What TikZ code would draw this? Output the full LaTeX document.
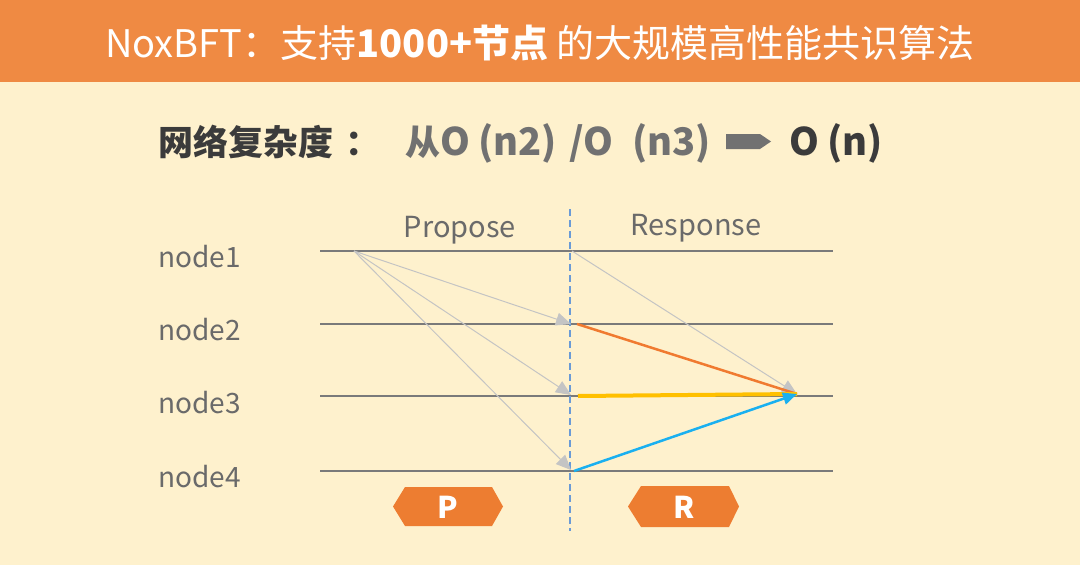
\documentclass[tikz,border=0pt]{standalone}
\usepackage{fontspec}
\setmainfont{Noto Sans CJK SC}
\usetikzlibrary{arrows.meta}
\definecolor{bgc}{HTML}{FEF1CD}
\definecolor{hdr}{HTML}{EF8A43}
\definecolor{hexc}{HTML}{ED7D31}
\definecolor{dark}{HTML}{3B3B3B}
\definecolor{midg}{HTML}{717171}
\definecolor{lbl}{HTML}{6A6A6A}
\definecolor{lineg}{HTML}{7A7A7A}
\definecolor{arrg}{HTML}{C4C4C4}
\definecolor{dashb}{HTML}{6A9BD6}
\definecolor{oline}{HTML}{F07A30}
\definecolor{yline}{HTML}{FFC000}
\definecolor{bline}{HTML}{1AB0F0}
\tikzset{
  lbltext/.style={font=\fontsize{28}{32}\selectfont, text=lbl, anchor=base, inner sep=0pt},
  subcjk/.style={font=\bfseries\fontsize{35}{40}\selectfont, anchor=base west, inner sep=0pt},
  sublat/.style={font=\bfseries\fontsize{38}{42}\selectfont, anchor=base west, inner sep=0pt},
  tline/.style={draw=lineg, line width=2pt},
  garrow/.style={draw=arrg, line width=1pt, -{Triangle[length=15pt,width=13pt]}},
  hexbox/.style={fill=hexc, draw=none},
  hextext/.style={font=\bfseries\fontsize{30}{34}\selectfont, text=white, inner sep=0pt}
}
\begin{document}
\begin{tikzpicture}[x=1pt,y=-1pt]
\useasboundingbox (0,0) rectangle (1080,565);
\fill[bgc] (0,0) rectangle (1080,565);
\fill[hdr] (0,0) rectangle (1080,82);
\node[anchor=base, inner sep=0pt, text=white, font=\fontsize{38}{44}\selectfont] (title) at (540,57)
  {NoxBFT：支持\textbf{1000+节点} 的大规模高性能共识算法};
% subtitle
\node[subcjk, text=dark] (s1) at (158,155) {网络复杂度};
\node[subcjk, text=dark] (s2) at (345,155) {：};
\node[subcjk, text=midg] (s3) at (405,155) {从\fontsize{38}{42}\selectfont O};
\node[sublat, text=midg] (s5) at (478,155) {(n2)};
\node[sublat, text=midg] (s6) at (569,155) {/O};
\node[sublat, text=midg] (s7) at (632,155) {(n3)};
\fill[midg] (726,134) -- (760,134) -- (771,141.5) -- (760,149) -- (726,149) -- cycle;
\node[sublat, text=dark] (s8) at (789,155) {O};
\node[sublat, text=dark] (s9) at (827,155) {(n)};
% headers
\node[lbltext, font=\fontsize{29}{32}\selectfont] (prop) at (460,237) {Propose};
\node[lbltext, font=\fontsize{29}{32}\selectfont] (resp) at (696,235) {Response};
% node labels
\node[lbltext, anchor=base west] (n1) at (158,267) {node1};
\node[lbltext, anchor=base west] (n2) at (158,340) {node2};
\node[lbltext, anchor=base west] (n3) at (158,413) {node3};
\node[lbltext, anchor=base west] (n4) at (158,487) {node4};
% lines
\coordinate (l1a) at (320,251); \coordinate (l1b) at (833,251);
\coordinate (l2a) at (320,324); \coordinate (l2b) at (833,324);
\coordinate (l3a) at (320,396); \coordinate (l3b) at (833,396);
\coordinate (l4a) at (320,471); \coordinate (l4b) at (833,471);
\draw[tline] (l1a) -- (l1b);
\draw[tline] (l2a) -- (l2b);
\draw[tline] (l3a) -- (l3b);
\draw[tline] (l4a) -- (l4b);
% dashed divider
\coordinate (dtop) at (570,209);
\coordinate (dbot) at (570,531);
\draw[dashb, line width=1.3pt, dash pattern=on 7pt off 4pt] (dtop) -- (dbot);
% propose arrows
\coordinate (src) at (354,251);
\coordinate (t2) at (571,324);
\coordinate (t3) at (571,395);
\coordinate (t4) at (571,470);
\draw[garrow] (src) -- (t2);
\draw[garrow] (src) -- (t3);
\draw[garrow] (src) -- (t4);
% response arrows
\coordinate (r1) at (572,251);
\coordinate (r2) at (577,324);
\coordinate (r3) at (578,396);
\coordinate (r4) at (574,471);
\coordinate (dst) at (797,394);
\draw[garrow] (r1) -- (dst);
\draw[oline, line width=2.5pt] (r2) -- (dst);
\draw[yline, line width=4pt] (r3) -- (dst);
\draw[bline, line width=2.5pt, -{Triangle[length=14pt,width=12pt]}] (r4) -- (dst);
% hexagons
\fill[hexbox] (393,506.5) -- (405,487) -- (492,487) -- (503,506.5) -- (492,526) -- (405,526) -- cycle;
\node[hextext] (pl) at (448,507) {P};
\fill[hexbox] (628,506.5) -- (641,486) -- (729,486) -- (739,506.5) -- (729,527) -- (641,527) -- cycle;
\node[hextext] (rl) at (684,507) {R};
\end{tikzpicture}
\end{document}
